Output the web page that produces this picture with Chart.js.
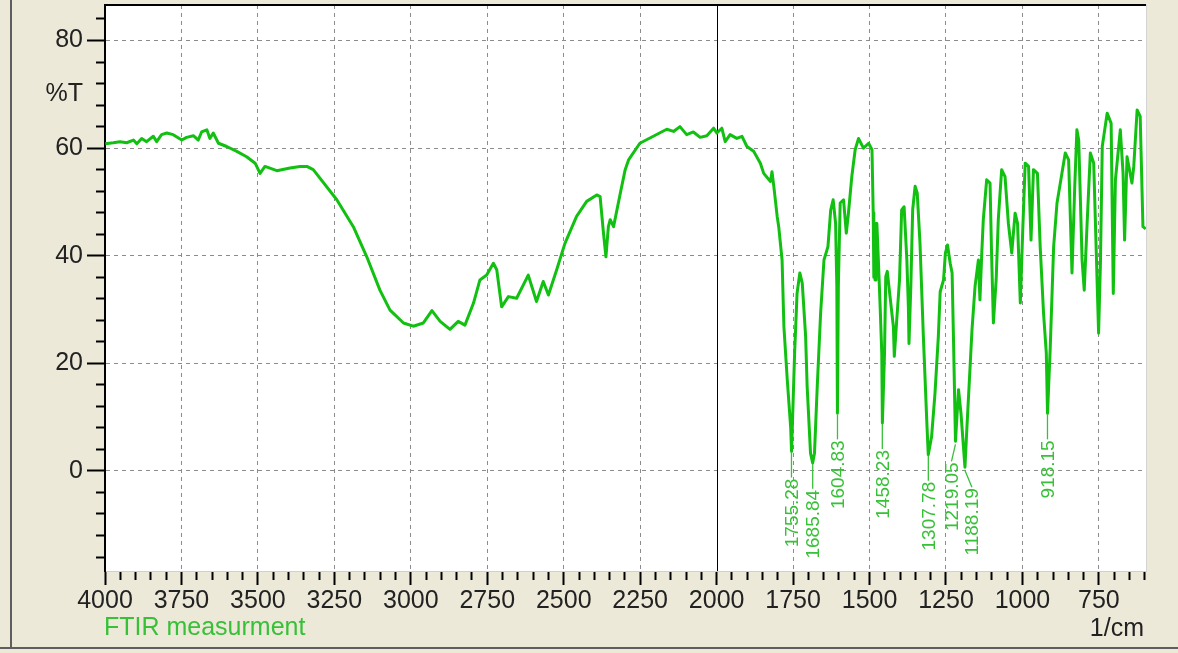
<!DOCTYPE html>
<html>
<head>
<meta charset="utf-8">
<script src="https://cdn.jsdelivr.net/npm/chart.js@4.4.1/dist/chart.umd.min.js"></script>
<style>
  html, body { margin: 0; padding: 0; background: #ece9d8; }
  canvas { display: block; }
</style>
</head>
<body>
<canvas id="ftir_canvas" width="1178" height="653"></canvas>
<script>
// spectrum: wavenumber (1/cm) and %T
const wavenumbers = [
  3999, 3973, 3951, 3929, 3907, 3896, 3880, 3864, 3842, 3831,
  3815, 3798, 3777, 3749, 3733, 3711, 3695, 3684, 3667, 3657,
  3646, 3629, 3602, 3569, 3537, 3509, 3493, 3477, 3438, 3395,
  3362, 3340, 3319, 3242, 3188, 3144, 3101, 3068, 3024, 2992,
  2959, 2931, 2904, 2872, 2845, 2823, 2795, 2774, 2752, 2730,
  2719, 2703, 2681, 2654, 2616, 2589, 2567, 2550, 2523, 2496,
  2458, 2425, 2392, 2381, 2370, 2362, 2354, 2348, 2337, 2315,
  2299, 2288, 2251, 2207, 2163, 2141, 2120, 2098, 2076, 2054,
  2032, 2010, 1999, 1983, 1972, 1956, 1934, 1917, 1901, 1879,
  1857, 1846, 1824, 1819, 1813, 1802, 1797, 1786, 1780, 1769,
  1758, 1755, 1745, 1737, 1728, 1720, 1709, 1704, 1693, 1686,
  1680, 1671, 1660, 1649, 1636, 1627, 1619, 1611, 1607, 1605,
  1602, 1596, 1585, 1576, 1569, 1558, 1547, 1536, 1520, 1503,
  1492, 1488, 1486, 1484, 1482, 1479, 1476, 1471, 1465, 1460,
  1458, 1451, 1447, 1442, 1433, 1422, 1419, 1411, 1402, 1395,
  1387, 1378, 1373, 1371, 1365, 1359, 1351, 1344, 1335, 1324,
  1313, 1308, 1297, 1286, 1275, 1269, 1258, 1252, 1245, 1236,
  1230, 1225, 1219, 1209, 1201, 1193, 1188, 1182, 1165, 1155,
  1144, 1139, 1133, 1128, 1117, 1106, 1101, 1095, 1086, 1079,
  1068, 1057, 1046, 1035, 1024, 1016, 1007, 999, 991, 980,
  972, 964, 951, 942, 931, 922, 918, 909, 898, 887,
  871, 860, 849, 838, 829, 822, 816, 805, 798, 789,
  778, 767, 756, 751, 745, 739, 723, 710, 703, 696,
  680, 671, 666, 658, 642, 636, 625, 615, 606, 597
];
const transmittance = [
  60.8, 61.0, 61.2, 61.0, 61.5, 60.8, 61.8, 61.2, 62.2, 61.2,
  62.5, 62.8, 62.5, 61.5, 62.0, 62.3, 61.5, 63.0, 63.4, 61.8,
  62.8, 60.9, 60.3, 59.4, 58.4, 57.2, 55.3, 56.6, 55.8, 56.3,
  56.6, 56.6, 56.0, 50.4, 45.4, 39.8, 33.6, 29.9, 27.5, 26.9,
  27.5, 29.8, 27.8, 26.3, 27.8, 27.1, 31.2, 35.5, 36.4, 38.6,
  37.4, 30.5, 32.4, 32.1, 36.4, 31.5, 35.2, 32.7, 37.4, 42.3,
  47.3, 50.1, 51.3, 51.0, 44.2, 39.8, 45.4, 46.7, 45.4, 51.6,
  56.0, 57.8, 60.9, 62.2, 63.5, 63.1, 64.0, 62.5, 63.0, 62.0,
  62.3, 63.7, 62.8, 63.7, 61.2, 62.5, 61.8, 62.2, 60.3, 59.4,
  57.2, 55.3, 53.8, 55.6, 52.9, 47.3, 45.4, 39.2, 26.8, 16.9,
  8.2, 3.6, 21.9, 33.0, 36.8, 34.9, 25.0, 15.7, 3.3, 1.5,
  3.3, 15.7, 29.3, 39.2, 41.7, 48.5, 50.4, 46.0, 34.3, 10.7,
  34.3, 49.8, 50.4, 44.2, 47.9, 54.7, 59.7, 61.8, 60.0, 60.9,
  59.7, 48.0, 36.0, 44.0, 35.5, 46.0, 46.0, 39.0, 30.0, 21.9,
  8.9, 21.9, 36.1, 37.1, 32.4, 26.8, 21.3, 28.1, 35.5, 48.5,
  49.1, 39.2, 30.5, 23.7, 34.3, 48.5, 52.9, 51.6, 42.3, 25.0,
  9.5, 3.0, 6.4, 14.4, 25.0, 33.3, 35.5, 40.5, 42.0, 38.5,
  36.8, 23.1, 5.5, 15.1, 10.7, 4.5, 0.7, 7.6, 26.2, 34.3,
  39.2, 31.8, 40.5, 46.7, 54.1, 53.5, 40.5, 27.5, 35.5, 46.7,
  56.0, 54.7, 46.0, 40.5, 47.9, 46.0, 31.2, 44.8, 57.2, 56.6,
  42.9, 56.0, 55.3, 41.7, 29.3, 21.9, 10.7, 23.1, 41.7, 49.8,
  55.3, 59.1, 57.8, 36.8, 52.9, 63.4, 61.5, 39.2, 33.6, 45.4,
  59.1, 57.2, 35.5, 25.6, 38.6, 60.3, 66.5, 64.6, 33.0, 54.1,
  63.4, 55.3, 42.9, 58.4, 53.5, 56.6, 67.1, 65.9, 45.4, 45.0
];

// picked peaks
const peakLabels = ['1755.28', '1685.84', '1604.83', '1458.23', '1307.78', '1219.05', '1188.19', '918.15'];
const peakWavenumbers = [1755.28, 1685.84, 1604.83, 1458.23, 1307.78, 1219.05, 1188.19, 918.15];
const peakTransmittance = [3.6, 1.5, 10.7, 8.9, 3.0, 5.5, 0.7, 10.7];

// axis ranges and tick steps
const xMin = 596, xMax = 4000;
const yMin = -18.6, yMax = 86.6;
const xMajor = 250, xMinor = 50;
const yMajor = 20, yMinor = 4;

const FONT = '"Liberation Sans", Arial, sans-serif';
const GREEN = '#12c012';
const TEXT_GREEN = '#38c038';

function isStep(v, step) {
    return Math.abs(v / step - Math.round(v / step)) < 1e-6;
}

// ticks on every multiple of step inside the scale range (skipping multiples of skip)
function stepTicks(scale, step, skip) {
    const out = [];
    for (let v = Math.ceil(scale.min / step) * step; v <= scale.max + 1e-9; v += step) {
        if (!skip || !isStep(v, skip)) {
            out.push({value: Math.round(v * 1000) / 1000});
        }
    }
    scale.ticks = out;
}

const points = wavenumbers.map(function(w, i) {
    return {x: w, y: transmittance[i]};
});

const panel = {
    id: 'panel',
    beforeDraw(chart) {
        const ctx = chart.ctx, a = chart.chartArea;
        ctx.save();
        ctx.fillStyle = '#ece9d8';
        ctx.fillRect(0, 0, chart.width, chart.height);
        ctx.fillStyle = '#ffffff';
        ctx.fillRect(a.left, a.top, a.right - a.left, a.bottom - a.top);
        // window frame
        ctx.fillStyle = '#5e5e5e';
        ctx.fillRect(10, 0, 2, 647);
        ctx.fillRect(0, 647, chart.width, 2);
        ctx.restore();
    },
    beforeDatasetsDraw(chart) {
        const ctx = chart.ctx, a = chart.chartArea;
        const x = Math.round(chart.scales.x.getPixelForValue(2000)) + 0.5;
        ctx.save();
        ctx.strokeStyle = '#000000';
        ctx.lineWidth = 1;
        ctx.beginPath();
        ctx.moveTo(x, a.top);
        ctx.lineTo(x, a.bottom);
        ctx.stroke();
        ctx.restore();
    },
    afterDraw(chart) {
        const ctx = chart.ctx, a = chart.chartArea;
        const xs = chart.scales.x, ys = chart.scales.y;
        ctx.save();
        // top and right edges of the plot panel
        ctx.fillStyle = '#000000';
        ctx.fillRect(a.left - 1, a.top - 1, a.right - a.left + 1, 2);
        ctx.fillStyle = '#d4d4d4';
        ctx.fillRect(a.right, a.top, 1, a.bottom - a.top);

        // axis captions
        ctx.font = '25px ' + FONT;
        ctx.textBaseline = 'middle';
        ctx.fillStyle = '#222222';
        ctx.textAlign = 'right';
        ctx.fillText('%T', 83, ys.getPixelForValue(70));
        ctx.fillText('1/cm', 1144, 629);
        ctx.textAlign = 'left';
        ctx.fillStyle = TEXT_GREEN;
        ctx.fillText('FTIR measurment', 104, 628);

        // peak labels, rotated, hanging below each minimum
        const shift = {'1219.05': -4, '1188.19': 7};
        ctx.font = '19px ' + FONT;
        ctx.strokeStyle = TEXT_GREEN;
        ctx.lineWidth = 1.3;
        for (let i = 0; i < peakLabels.length; i++) {
            const px = xs.getPixelForValue(peakWavenumbers[i]);
            const py = ys.getPixelForValue(peakTransmittance[i]);
            const dx = shift[peakLabels[i]] || 0;
            const lx = px + dx;
            const leadEnd = py + (dx ? 20 : 26);
            ctx.beginPath();
            ctx.moveTo(px, py + (dx ? 3 : 1));
            ctx.lineTo(lx, leadEnd);
            ctx.stroke();
            ctx.save();
            ctx.translate(lx, leadEnd + 1);
            ctx.rotate(-Math.PI / 2);
            ctx.textAlign = 'right';
            ctx.textBaseline = 'middle';
            ctx.fillText(peakLabels[i], 0, 1);
            ctx.restore();
        }
        ctx.restore();
    }
};

function zeroPadding(scale) {
    scale.paddingTop = 0;
    scale.paddingBottom = 0;
    scale.paddingLeft = 0;
    scale.paddingRight = 0;
}

const canvas = document.getElementById('ftir_canvas');
const chart = new Chart(canvas.getContext('2d'), {
    type: 'line',
    data: {
        datasets: [{
            data: points,
            borderColor: GREEN,
            borderWidth: 3,
            borderJoinStyle: 'round',
            pointRadius: 0,
            fill: false,
            tension: 0
        }]
    },
    options: {
        responsive: false,
        animation: false,
        devicePixelRatio: 1,
        layout: {padding: {left: 0, top: 5, right: 32, bottom: 0}},
        plugins: {
            legend: {display: false},
            tooltip: {enabled: false}
        },
        scales: {
            x: {
                type: 'linear',
                position: 'bottom',
                reverse: true,
                min: xMin,
                max: xMax,
                weight: 1,
                afterBuildTicks: scale => stepTicks(scale, xMajor),
                afterFit: function(scale) {
                    scale.height = 82;
                    zeroPadding(scale);
                },
                ticks: {
                    autoSkip: false,
                    maxRotation: 0,
                    minRotation: 0,
                    padding: 1,
                    color: '#222222',
                    font: {family: FONT, size: 25},
                    callback: v => String(v)
                },
                grid: {
                    color: c => (c.tick && (c.tick.value === 4000 || c.tick.value === 2000)) ? 'rgba(0,0,0,0)' : '#8c8c8c',
                    lineWidth: 1,
                    tickLength: 14,
                    tickColor: '#000000',
                    tickWidth: 2
                },
                border: {display: true, color: '#d0d0d0', width: 1, dash: [4, 4]}
            },
            xMinor: {
                type: 'linear',
                position: 'bottom',
                reverse: true,
                min: xMin,
                max: xMax,
                weight: 0,
                afterBuildTicks: scale => stepTicks(scale, xMinor, xMajor),
                afterFit: function(scale) {
                    scale.height = 0;
                    zeroPadding(scale);
                },
                ticks: {display: false, autoSkip: false},
                grid: {drawOnChartArea: false, tickLength: 9, tickColor: '#000000', tickWidth: 2},
                border: {display: false}
            },
            y: {
                type: 'linear',
                position: 'left',
                min: yMin,
                max: yMax,
                weight: 1,
                afterBuildTicks: scale => stepTicks(scale, yMajor),
                afterFit: function(scale) {
                    scale.width = 105;
                    zeroPadding(scale);
                },
                ticks: {
                    padding: 4,
                    color: '#222222',
                    font: {family: FONT, size: 25},
                    callback: v => String(v)
                },
                grid: {
                    color: '#8c8c8c',
                    lineWidth: 1,
                    tickLength: 18,
                    tickColor: '#000000',
                    tickWidth: 2
                },
                border: {display: true, color: '#000000', width: 2, dash: [4, 4]}
            },
            yMinor: {
                type: 'linear',
                position: 'left',
                min: yMin,
                max: yMax,
                weight: 0,
                afterBuildTicks: scale => stepTicks(scale, yMinor, yMajor),
                afterFit: function(scale) {
                    scale.width = 0;
                    zeroPadding(scale);
                },
                ticks: {display: false},
                grid: {drawOnChartArea: false, tickLength: 9, tickColor: '#000000', tickWidth: 2},
                border: {display: false}
            }
        }
    },
    plugins: [panel]
});
</script>
</body>
</html>
